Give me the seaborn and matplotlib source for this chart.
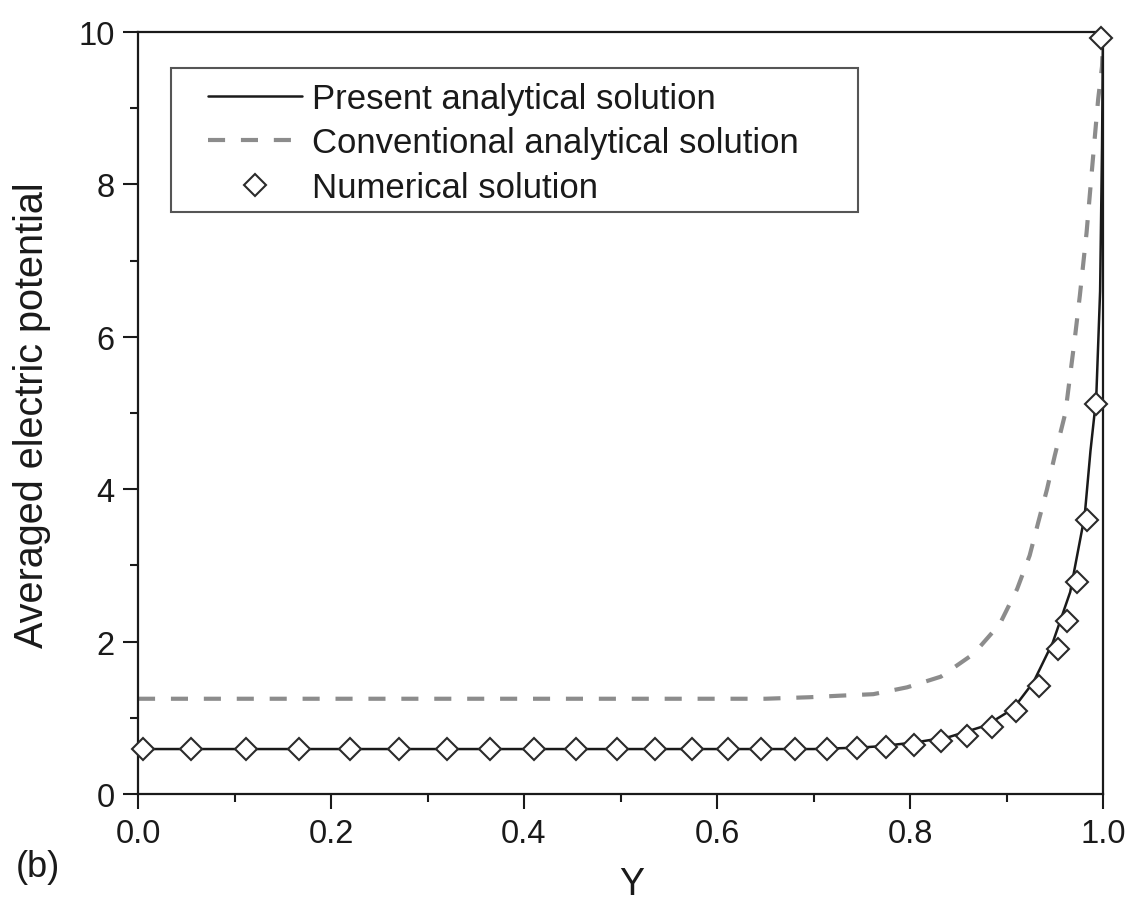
import numpy as np
import pandas as pd
import matplotlib
matplotlib.use("Agg")
import matplotlib.pyplot as plt
import seaborn as sns
from matplotlib.ticker import MultipleLocator
from matplotlib.patches import Rectangle

# ---- data ----
present_x = [0.0, 0.70, 0.75, 0.772, 0.807, 0.841, 0.879, 0.907, 0.928, 0.948,
             0.966, 0.981, 0.987, 0.993, 0.997, 0.999, 1.0]
present_y = [0.59, 0.59, 0.61, 0.63, 0.68, 0.75, 0.90, 1.12, 1.47, 1.99,
             2.65, 3.65, 4.5, 5.2, 6.6, 8.5, 10.0]

conv_x = [0.0, 0.65, 0.696, 0.727, 0.762, 0.797, 0.832, 0.866, 0.893, 0.911,
          0.924, 0.933, 0.942, 0.950, 0.961, 0.971, 0.976, 0.983, 0.988, 0.992,
          0.995, 0.999, 1.0]
conv_y = [1.25, 1.25, 1.27, 1.29, 1.31, 1.40, 1.54, 1.84, 2.23, 2.69,
          3.13, 3.57, 4.0, 4.44, 5.0, 6.0, 6.54, 7.37, 8.11, 8.69,
          9.12, 9.55, 9.95]

num_x = [0.005, 0.055, 0.112, 0.167, 0.220, 0.270, 0.320, 0.365, 0.410, 0.454,
         0.496, 0.536, 0.574, 0.611, 0.646, 0.681, 0.714, 0.745, 0.775, 0.804,
         0.832, 0.859, 0.885, 0.910, 0.934, 0.953, 0.963, 0.973, 0.983, 0.993, 0.998]
num_y = [0.59, 0.59, 0.59, 0.59, 0.59, 0.59, 0.59, 0.59, 0.59, 0.59,
         0.59, 0.59, 0.59, 0.59, 0.59, 0.59, 0.59, 0.60, 0.62, 0.64,
         0.69, 0.76, 0.88, 1.09, 1.42, 1.90, 2.27, 2.78, 3.59, 5.12, 9.92]

labels = ["Present analytical solution", "Conventional analytical solution",
          "Numerical solution"]
x_ticks = [0.0, 0.2, 0.4, 0.6, 0.8, 1.0]
y_ticks = [0, 2, 4, 6, 8, 10]

sns.set_style("ticks")
plt.rcParams['font.family'] = ['Liberation Sans', 'DejaVu Sans']

df_p = pd.DataFrame({"x": present_x, "y": present_y})
df_c = pd.DataFrame({"x": conv_x, "y": conv_y})
df_n = pd.DataFrame({"x": num_x, "y": num_y})

fig = plt.figure(figsize=(11.34, 9.12), dpi=100)
ax = fig.add_axes([138/1134, 1-795/912, (1103-138)/1134, (795-33)/912])

sns.lineplot(data=df_c, x="x", y="y", ax=ax, color="#8c8c8c", lw=3,
             dashes=False, linestyle=(0, (4.1, 3.8)), label=labels[1], zorder=2)
sns.lineplot(data=df_p, x="x", y="y", ax=ax, color="#1a1a1a", lw=1.8,
             label=labels[0], zorder=3)
ax.plot(df_n["x"], df_n["y"], linestyle="none", marker="D", ms=11.5,
        mfc="white", mec="#2a2a2a", mew=1.5, label=labels[2], zorder=4,
        clip_on=False)

ax.set_xlim(0, 1.0)
ax.set_ylim(0, 10)
ax.set_xticks(x_ticks)
ax.set_yticks(y_ticks)
ax.set_xticklabels([f"{v:.1f}" for v in x_ticks])
ax.set_yticklabels([str(v) for v in y_ticks])
ax.xaxis.set_minor_locator(MultipleLocator(0.1))
ax.yaxis.set_minor_locator(MultipleLocator(1))
ax.tick_params(which="major", direction="out", length=11, width=1.5,
               labelsize=23.5, colors="#1a1a1a", pad=6)
ax.tick_params(which="minor", direction="out", length=6, width=1.5,
               colors="#1a1a1a")
for s in ax.spines.values():
    s.set_visible(True)
    s.set_linewidth(1.6)
    s.set_color("#1a1a1a")

ax.set_xlabel("")
ax.set_ylabel("")
fig.text(632/1134, 1-885/912, "Y", fontsize=27, ha="center", va="center",
         color="#1a1a1a")
fig.text(32/1134, 1-415/912, "Averaged electric potential", fontsize=28.5,
         rotation=90, ha="center", va="center", color="#1a1a1a")
fig.text(38/1134, 1-868/912, "(b)", fontsize=26, ha="center", va="center",
         color="#1a1a1a")

h, l = ax.get_legend_handles_labels()
order = [l.index(t) for t in labels]
leg = ax.legend([h[i] for i in order], [l[i] for i in order],
                loc="upper left",
                bbox_to_anchor=(208/1134, 1-83/912),
                bbox_transform=fig.transFigure, borderaxespad=0,
                frameon=False, fontsize=25, borderpad=0,
                handlelength=2.7, handletextpad=0.3, labelspacing=0.33)
for t in leg.get_texts():
    t.set_color("#1a1a1a")
fig.patches.append(Rectangle((171/1134, 1-213/912), (858-171)/1134,
                             (213-69)/912, transform=fig.transFigure,
                             fill=False, ec="#555555", lw=1.5, zorder=5))

fig.savefig("out.png", dpi=100, facecolor="white")
